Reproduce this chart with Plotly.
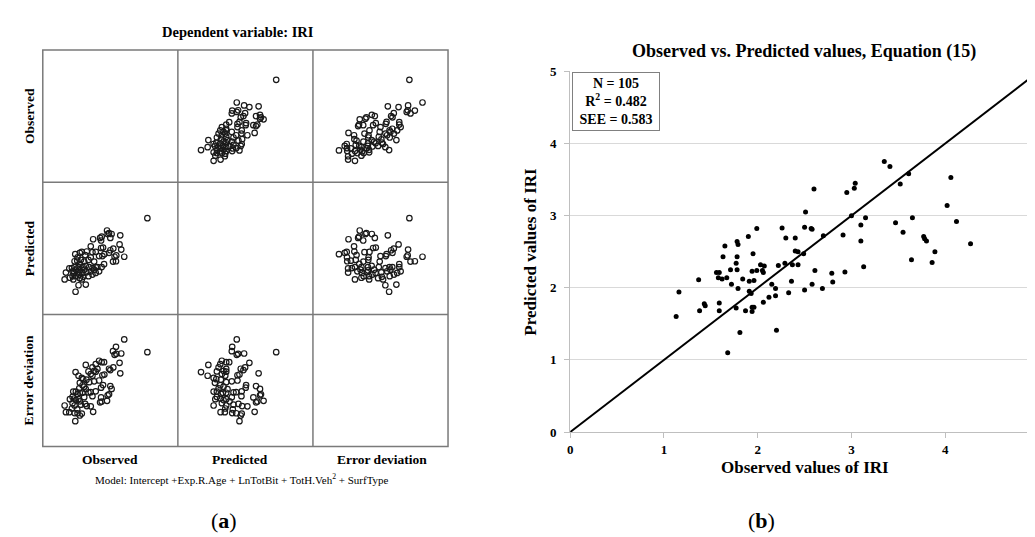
import plotly.graph_objects as go

W, H = 1035, 537
FONT = "Liberation Serif, Times New Roman, serif"

# ---------------- Panel (b) data: observed vs predicted IRI ----------------
obs_b = [1.99, 1.65, 1.78, 1.79, 1.90, 1.63, 1.78, 1.95, 1.77, 1.71,
         1.78, 1.56, 1.59, 1.58, 1.62, 1.67, 1.72, 1.79, 1.84, 1.91,
         1.96, 1.94, 1.99, 1.37, 1.16, 1.13, 1.38, 1.43, 1.44, 1.59,
         1.59, 1.77, 1.87, 1.94, 1.96, 1.94, 1.81, 1.68, 1.91, 1.93,
         2.03, 2.07, 2.05, 2.06, 2.06,
         2.60, 2.95, 3.03, 3.04, 2.51, 2.26, 2.50, 2.57, 2.58, 2.30,
         2.40, 2.70, 2.91, 3.10, 3.15, 3.10, 2.40, 2.43, 2.49,
         2.22, 2.29, 2.37, 2.43, 2.61, 2.79, 2.93, 3.13, 2.15, 2.19,
         2.36, 2.58, 2.80, 2.69, 2.50, 2.33, 2.19, 2.12, 2.20,
         3.00,
         3.35, 3.41, 3.61, 3.52, 4.06, 4.02, 3.47, 3.65, 4.12, 3.55,
         3.77, 3.78, 3.80, 3.89, 4.27, 3.64, 3.86]
pred_b = [2.82, 2.58, 2.64, 2.60, 2.71, 2.43, 2.43, 2.47, 2.34, 2.25,
          2.25, 2.21, 2.21, 2.14, 2.12, 2.14, 2.05, 1.99, 2.12, 2.09,
          2.10, 2.23, 2.24, 2.11, 1.94, 1.60, 1.68, 1.78, 1.75, 1.79,
          1.68, 1.72, 1.68, 1.73, 1.73, 1.67, 1.38, 1.10, 1.95, 1.92,
          2.32, 2.30, 2.24, 2.21, 1.80,
          3.37, 3.32, 3.38, 3.45, 3.05, 2.83, 2.84, 2.82, 2.81, 2.69,
          2.69, 2.72, 2.73, 2.87, 2.97, 2.65, 2.51, 2.50, 2.47,
          2.31, 2.34, 2.32, 2.32, 2.24, 2.20, 2.22, 2.29, 2.05, 1.99,
          2.09, 2.05, 2.08, 1.99, 1.97, 1.93, 1.89, 1.87, 1.41,
          3.00,
          3.75, 3.68, 3.58, 3.44, 3.53, 3.14, 2.90, 2.97, 2.92, 2.77,
          2.71, 2.68, 2.65, 2.50, 2.61, 2.39, 2.35]
line_xy = [0, 5]
ticks_b = [0, 1, 2, 3, 4, 5]
stats_lines = ["N = 105", "R<sup>2</sup> = 0.482", "SEE = 0.583"]

# ---------------- Panel (a) data: scatter matrix (unscaled cell units) ----------------
obs_a = [105.3, 64.7, 66.7, 65.3, 69.3, 78.0, 50.7, 57.7, 59.3, 58.7,
         68.0, 77.3, 48.3, 58.7, 60.7, 68.0, 71.0, 79.0, 82.0, 74.0,
         72.3, 70.7, 73.7, 60.0, 39.3, 44.3, 50.0, 53.3, 35.0, 34.7,
         32.0, 37.3, 41.7, 46.0, 48.3, 51.7, 43.3, 40.0, 36.0, 32.0,
         29.3, 33.3, 37.3, 41.7, 46.7, 50.0, 53.3, 55.0, 59.3, 61.7,
         51.7, 48.3, 44.0, 40.0, 36.7, 33.3, 30.0, 27.3, 23.3, 26.7,
         22.0, 30.7, 37.3, 40.7, 36.0, 43.3, 33.0, 39.3, 46.0, 50.0,
         53.3, 56.7, 38.3, 42.7, 56.7, 62.0, 66.7, 31.7, 35.0, 30.0,
         32.7, 37.3]
pred_a = [99.0, 86.3, 83.7, 82.7, 82.7, 81.3, 77.3, 78.7, 80.0, 76.0,
          78.7, 72.0, 70.0, 68.3, 68.7, 66.0, 67.7, 66.7, 59.3, 60.7,
          59.3, 54.3, 54.7, 60.0, 64.3, 64.7, 64.0, 64.3, 58.7, 55.3,
          54.7, 52.0, 54.3, 56.0, 58.7, 54.3, 50.0, 48.7, 48.7, 48.7,
          47.7, 46.0, 45.3, 46.0, 48.7, 47.7, 48.7, 48.7, 48.7, 51.7,
          46.0, 44.3, 43.3, 42.7, 41.0, 39.3, 39.3, 37.7, 43.0, 47.3,
          36.0, 36.0, 37.3, 38.7, 30.0, 30.7, 23.3, 36.0, 39.3, 41.0,
          42.7, 44.3, 56.0, 61.0, 60.0, 62.0, 63.3, 42.7, 43.3, 44.3,
          62.0, 63.3]
err_a = [97.1, 47.1, 53.8, 52.8, 59.3, 75.4, 35.8, 45.5, 46.4, 50.6,
         62.3, 86.2, 41.4, 60.6, 63.3, 78.7, 81.4, 95.8, 110.3, 95.4,
         94.4, 98.2, 102.6, 73.4, 34.0, 41.7, 51.9, 56.9, 34.3, 38.2,
         34.5, 46.6, 50.8, 55.7, 56.0, 67.2, 59.1, 55.4, 48.8, 42.3,
         39.2, 47.9, 55.3, 61.6, 66.3, 73.0, 77.1, 79.9, 86.9, 86.9,
         78.0, 74.6, 68.9, 63.1, 59.9, 56.5, 51.1, 48.8, 35.4, 35.4,
         42.3, 56.6, 65.6, 69.4, 72.9, 84.0, 76.7, 70.6, 77.3, 81.6,
         84.8, 88.3, 43.1, 43.9, 68.0, 74.1, 80.1, 49.5, 54.2, 44.7,
         26.2, 32.0]
var_names = ["Observed", "Predicted", "Error deviation"]
model_text = "Model: Intercept +Exp.R.Age + LnTotBit + TotH.Veh<sup>2</sup> + SurfType"


def px(x):
    return x / W


def py(y):
    return 1 - y / H


fig = go.Figure()

# ---------------- Panel (b) ----------------
fig.add_trace(go.Scatter(x=line_xy, y=line_xy, mode="lines",
                         line=dict(color="black", width=2),
                         xaxis="x", yaxis="y", hoverinfo="skip"))
fig.add_trace(go.Scatter(x=obs_b, y=pred_b, mode="markers",
                         marker=dict(color="black", size=5),
                         xaxis="x", yaxis="y"))

tickfont_b = dict(family=FONT, size=13, color="black", weight="bold")
layout = dict(
    width=W, height=H,
    margin=dict(l=0, r=0, t=0, b=0),
    paper_bgcolor="white", plot_bgcolor="white",
    showlegend=False,
    xaxis=dict(domain=[px(563), 1.0], range=[0, 5], tickvals=ticks_b,
               showgrid=False, zeroline=False, showline=True,
               linecolor="#bfbfbf", linewidth=1, ticks="outside",
               ticklen=5, tickcolor="#bfbfbf", ticklabeloverflow="allow",
               tickfont=tickfont_b, anchor="y"),
    yaxis=dict(domain=[py(429), py(58)], range=[0, 5], tickvals=ticks_b,
               showgrid=True, gridcolor="#d9d9d9", gridwidth=1,
               zeroline=False, showline=True, linecolor="#bfbfbf",
               linewidth=1, ticks="outside", ticklen=5, tickcolor="#bfbfbf",
               ticklabelstandoff=5, ticklabeloverflow="allow",
               tickfont=tickfont_b, anchor="x"),
)

# ---------------- Panel (a) scatter matrix ----------------
cols = [(32, 168), (168, 304), (304, 440)]
rows = [(36, 172), (172, 308), (308, 444)]
vals = [obs_a, pred_a, err_a]

k = 2
for r in range(3):
    for c in range(3):
        if r == c:
            continue
        xa, ya = "x%d" % k, "y%d" % k
        fig.add_trace(go.Scatter(
            x=vals[c], y=vals[r], mode="markers",
            marker=dict(symbol="circle-open", size=5.5, color="#1a1a1a",
                        line=dict(width=1.2, color="#1a1a1a")),
            xaxis=xa, yaxis=ya))
        layout["xaxis%d" % k] = dict(domain=[px(cols[c][0]), px(cols[c][1])],
                                     range=[0, 136], visible=False,
                                     anchor=ya, fixedrange=True)
        layout["yaxis%d" % k] = dict(domain=[py(rows[r][1]), py(rows[r][0])],
                                     range=[0, 136], visible=False,
                                     anchor=xa, fixedrange=True)
        k += 1

grid_col = "#7a7a7a"
shapes = [dict(type="rect", xref="paper", yref="paper",
               x0=px(32), x1=px(440), y0=py(444), y1=py(36),
               line=dict(color=grid_col, width=1.5))]
for xv in (168, 304):
    shapes.append(dict(type="line", xref="paper", yref="paper",
                       x0=px(xv), x1=px(xv), y0=py(444), y1=py(36),
                       line=dict(color=grid_col, width=1.5)))
for yv in (172, 308):
    shapes.append(dict(type="line", xref="paper", yref="paper",
                       x0=px(32), x1=px(440), y0=py(yv), y1=py(yv),
                       line=dict(color=grid_col, width=1.5)))
layout["shapes"] = shapes


def ann(text, x, y, size, angle=0, bold=True, **kw):
    d = dict(text=("<b>%s</b>" % text) if bold else text,
             x=px(x), y=py(y), xref="paper", yref="paper",
             showarrow=False, textangle=angle,
             font=dict(family=FONT, size=size, color="black"),
             xanchor="center", yanchor="middle")
    d.update(kw)
    return d


anns = [
    ann("Dependent variable: IRI", 229, 18, 14.5),
    ann(var_names[0], 18, 104, 13.5, angle=-90),
    ann(var_names[1], 18, 240, 13.5, angle=-90),
    ann(var_names[2], 18, 376, 13.5, angle=-90),
    ann(var_names[0], 100, 457, 13.5),
    ann(var_names[1], 231, 457, 13.5),
    ann(var_names[2], 374, 457, 13.5),
    ann(model_text, 233, 477, 11, bold=False),
    ann("(<b>a</b>)", 214, 520, 22, bold=False),
    ann("(<b>b</b>)", 756, 520, 22, bold=False),
    ann("Observed vs. Predicted values, Equation (15)", 798, 38, 18),
    ann("Predicted values of IRI", 523, 243, 17, angle=-90),
    ann("Observed values of IRI", 799, 465, 17),
    ann("<br>".join(stats_lines), 609, 89.5, 14,
        bordercolor="#808080", borderwidth=1, borderpad=3,
        bgcolor="white", width=80, height=51, align="center"),
]
layout["annotations"] = anns

fig.update_layout(**layout)
fig.write_html("out.html")
